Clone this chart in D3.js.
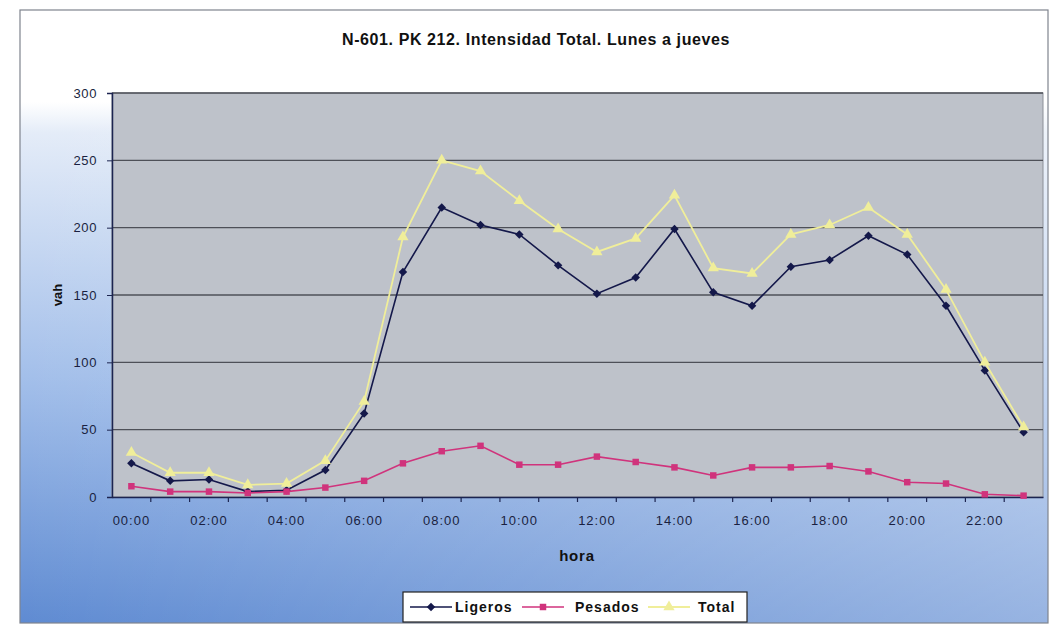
<!DOCTYPE html>
<html>
<head>
<meta charset="utf-8">
<script src="https://cdn.jsdelivr.net/npm/d3@7"></script>
<style>
  body { margin: 0; background: #ffffff; }
  svg { display: block; font-family: "Liberation Sans", Arial, sans-serif; }
</style>
</head>
<body>
<div id="chart"></div>
<script>
// chart values
const HOURS = ["00:00","01:00","02:00","03:00","04:00","05:00","06:00","07:00","08:00","09:00","10:00","11:00",
               "12:00","13:00","14:00","15:00","16:00","17:00","18:00","19:00","20:00","21:00","22:00","23:00"];
const LIGEROS = [25, 12, 13, 4, 5, 20, 62, 167, 215, 202, 195, 172, 151, 163, 199, 152, 142, 171, 176, 194, 180, 142, 94, 48];
const PESADOS = [8, 4, 4, 3, 4, 7, 12, 25, 34, 38, 24, 24, 30, 26, 22, 16, 22, 22, 23, 19, 11, 10, 2, 1];
const TOTAL = [33, 18, 18, 9, 10, 27, 71, 193, 250, 242, 220, 199, 182, 192, 224, 170, 166, 195, 202, 215, 195, 154, 100, 52];
const Y_TICKS = [0, 50, 100, 150, 200, 250, 300];
const X_LABELS = ["00:00","02:00","04:00","06:00","08:00","10:00","12:00","14:00","16:00","18:00","20:00","22:00"];

const TITLE = "N-601. PK 212. Intensidad Total. Lunes a jueves";

// frame constants
const FRAME_WIDTH = 1056;
const FRAME_HEIGHT = 626;
const MARGINS = {left: 112, right: 13, top: 93, bottom: 129};
const VIS_WIDTH = FRAME_WIDTH - MARGINS.left - MARGINS.right;
const VIS_HEIGHT = FRAME_HEIGHT - MARGINS.top - MARGINS.bottom;

// diamond = square turned 45 degrees, like the spreadsheet marker
const SERIES = [
  {name: "Ligeros", values: LIGEROS, color: "#14184a", marker: d3.symbolSquare, size: 36, rot: 45, width: 1.6},
  {name: "Pesados", values: PESADOS, color: "#d0337c", marker: d3.symbolSquare, size: 42, rot: 0, width: 1.6},
  {name: "Total", values: TOTAL, color: "#f0ee9a", marker: d3.symbolTriangle, size: 55, rot: 0, width: 1.8}
];

const FRAME = d3.select("#chart")
  .append("svg")
  .attr("width", FRAME_WIDTH)
  .attr("height", FRAME_HEIGHT);

// background: white top fading to blue at the bottom, lighter to the right
const defs = FRAME.append("defs");
const vgrad = defs.append("linearGradient")
  .attr("id", "bgv")
  .attr("gradientUnits", "userSpaceOnUse")
  .attr("x1", 0).attr("y1", 10)
  .attr("x2", 0).attr("y2", 623);
vgrad.append("stop").attr("offset", "0").attr("stop-color", "#ffffff");
vgrad.append("stop").attr("offset", "0.15").attr("stop-color", "#ffffff");
vgrad.append("stop").attr("offset", "0.2").attr("stop-color", "#e4ecf8");
vgrad.append("stop").attr("offset", "0.6").attr("stop-color", "#a3bfea");
vgrad.append("stop").attr("offset", "1").attr("stop-color", "#5f8bd2");

const hgrad = defs.append("linearGradient")
  .attr("id", "bgh")
  .attr("x1", "0").attr("y1", "0")
  .attr("x2", "1").attr("y2", "0");
hgrad.append("stop").attr("offset", "0").attr("stop-color", "#ffffff").attr("stop-opacity", 0);
hgrad.append("stop").attr("offset", "1").attr("stop-color", "#ffffff").attr("stop-opacity", 0.35);

FRAME.append("rect")
  .attr("x", 20).attr("y", 10)
  .attr("width", 1028).attr("height", 613)
  .attr("fill", "url(#bgv)");
FRAME.append("rect")
  .attr("x", 20).attr("y", 10)
  .attr("width", 1028).attr("height", 613)
  .attr("fill", "url(#bgh)")
  .attr("stroke", "#7f848e")
  .attr("stroke-width", 1.2);

// scales
const X_SCALE = d3.scaleBand()
  .domain(HOURS)
  .range([0, VIS_WIDTH]);

const Y_SCALE = d3.scaleLinear()
  .domain([0, 300])
  .range([VIS_HEIGHT, 0]);

const PLOT = FRAME.append("g")
  .attr("transform", "translate(" + MARGINS.left + "," + MARGINS.top + ")");

// plot area
PLOT.append("rect")
  .attr("width", VIS_WIDTH)
  .attr("height", VIS_HEIGHT)
  .attr("fill", "#bec2ca")
  .attr("stroke", "#8c9098")
  .attr("stroke-width", 1);

// gridlines
PLOT.selectAll(".grid")
  .data(Y_TICKS.filter((d) => d > 0))
  .enter()
  .append("line")
  .attr("x1", 0)
  .attr("x2", VIS_WIDTH)
  .attr("y1", (d) => Y_SCALE(d))
  .attr("y2", (d) => Y_SCALE(d))
  .attr("stroke", "#4e5058")
  .attr("stroke-width", 1.3);

// y axis
const yAxis = PLOT.append("g")
  .call(d3.axisLeft(Y_SCALE).tickValues(Y_TICKS).tickSize(5).tickPadding(10));
yAxis.select(".domain").attr("stroke", "#1c2450").attr("stroke-width", 1.5);
yAxis.selectAll(".tick line").attr("stroke", "#1c2450");
yAxis.selectAll("text")
  .attr("font-size", "13px")
  .attr("letter-spacing", "0.6px")
  .attr("fill", "#1a1f40");

// x axis, ticks sit between the categories
const xAxis = PLOT.append("g")
  .attr("transform", "translate(0," + VIS_HEIGHT + ")")
  .call(d3.axisBottom(X_SCALE).tickSize(0).tickPadding(19)
    .tickFormat((d) => X_LABELS.includes(d) ? d : ""));
xAxis.select(".domain").attr("stroke", "#1c2450").attr("stroke-width", 1.5);
xAxis.selectAll("text")
  .attr("font-size", "13px")
  .attr("letter-spacing", "1px")
  .attr("fill", "#1a1f40");

PLOT.selectAll(".xtick")
  .data(HOURS.slice(1))
  .enter()
  .append("line")
  .attr("x1", (d) => X_SCALE(d))
  .attr("x2", (d) => X_SCALE(d))
  .attr("y1", VIS_HEIGHT)
  .attr("y2", VIS_HEIGHT + 5)
  .attr("stroke", "#1c2450")
  .attr("stroke-width", 1.2);

// lines and markers
const cx = (i) => X_SCALE(HOURS[i]) + X_SCALE.bandwidth() / 2;
const line = d3.line()
  .x((d, i) => cx(i))
  .y((d) => Y_SCALE(d));

SERIES.forEach((s) => {
  PLOT.append("path")
    .datum(s.values)
    .attr("d", line)
    .attr("fill", "none")
    .attr("stroke", s.color)
    .attr("stroke-width", s.width);

  PLOT.selectAll(".m-" + s.name)
    .data(s.values)
    .enter()
    .append("path")
    .attr("d", d3.symbol().type(s.marker).size(s.size))
    .attr("transform", (d, i) => "translate(" + cx(i) + "," + Y_SCALE(d) + ") rotate(" + s.rot + ")")
    .attr("fill", s.color);
});

// title and axis labels
FRAME.append("text")
  .attr("x", 536)
  .attr("y", 45)
  .attr("text-anchor", "middle")
  .attr("font-size", "16px")
  .attr("letter-spacing", "0.6px")
  .attr("font-weight", "bold")
  .attr("fill", "#111")
  .text(TITLE);

FRAME.append("text")
  .attr("transform", "translate(62,295) rotate(-90)")
  .attr("text-anchor", "middle")
  .attr("font-size", "13px")
  .attr("font-weight", "bold")
  .attr("fill", "#111")
  .text("vah");

FRAME.append("text")
  .attr("x", 577)
  .attr("y", 561)
  .attr("text-anchor", "middle")
  .attr("font-size", "15px")
  .attr("letter-spacing", "0.8px")
  .attr("font-weight", "bold")
  .attr("fill", "#111")
  .text("hora");

// legend
const LEGEND = FRAME.append("g");
LEGEND.append("rect")
  .attr("x", 403).attr("y", 592)
  .attr("width", 344).attr("height", 30)
  .attr("fill", "#ffffff")
  .attr("stroke", "#222")
  .attr("stroke-width", 1.2);

const LEGEND_POS = [{x: 410, tx: 455}, {x: 522, tx: 575}, {x: 648, tx: 698}];
SERIES.forEach((s, i) => {
  const p = LEGEND_POS[i];
  const g = LEGEND.append("g");
  g.append("line")
    .attr("x1", p.x).attr("x2", p.x + 42)
    .attr("y1", 607).attr("y2", 607)
    .attr("stroke", s.color)
    .attr("stroke-width", s.width);
  g.append("path")
    .attr("d", d3.symbol().type(s.marker).size(s.size))
    .attr("transform", "translate(" + (p.x + 21) + ",607) rotate(" + s.rot + ")")
    .attr("fill", s.color);
  g.append("text")
    .attr("x", p.tx)
    .attr("y", 612)
    .attr("font-size", "14px")
    .attr("letter-spacing", "1px")
    .attr("font-weight", "bold")
    .attr("fill", "#111")
    .text(s.name);
});
</script>
</body>
</html>
